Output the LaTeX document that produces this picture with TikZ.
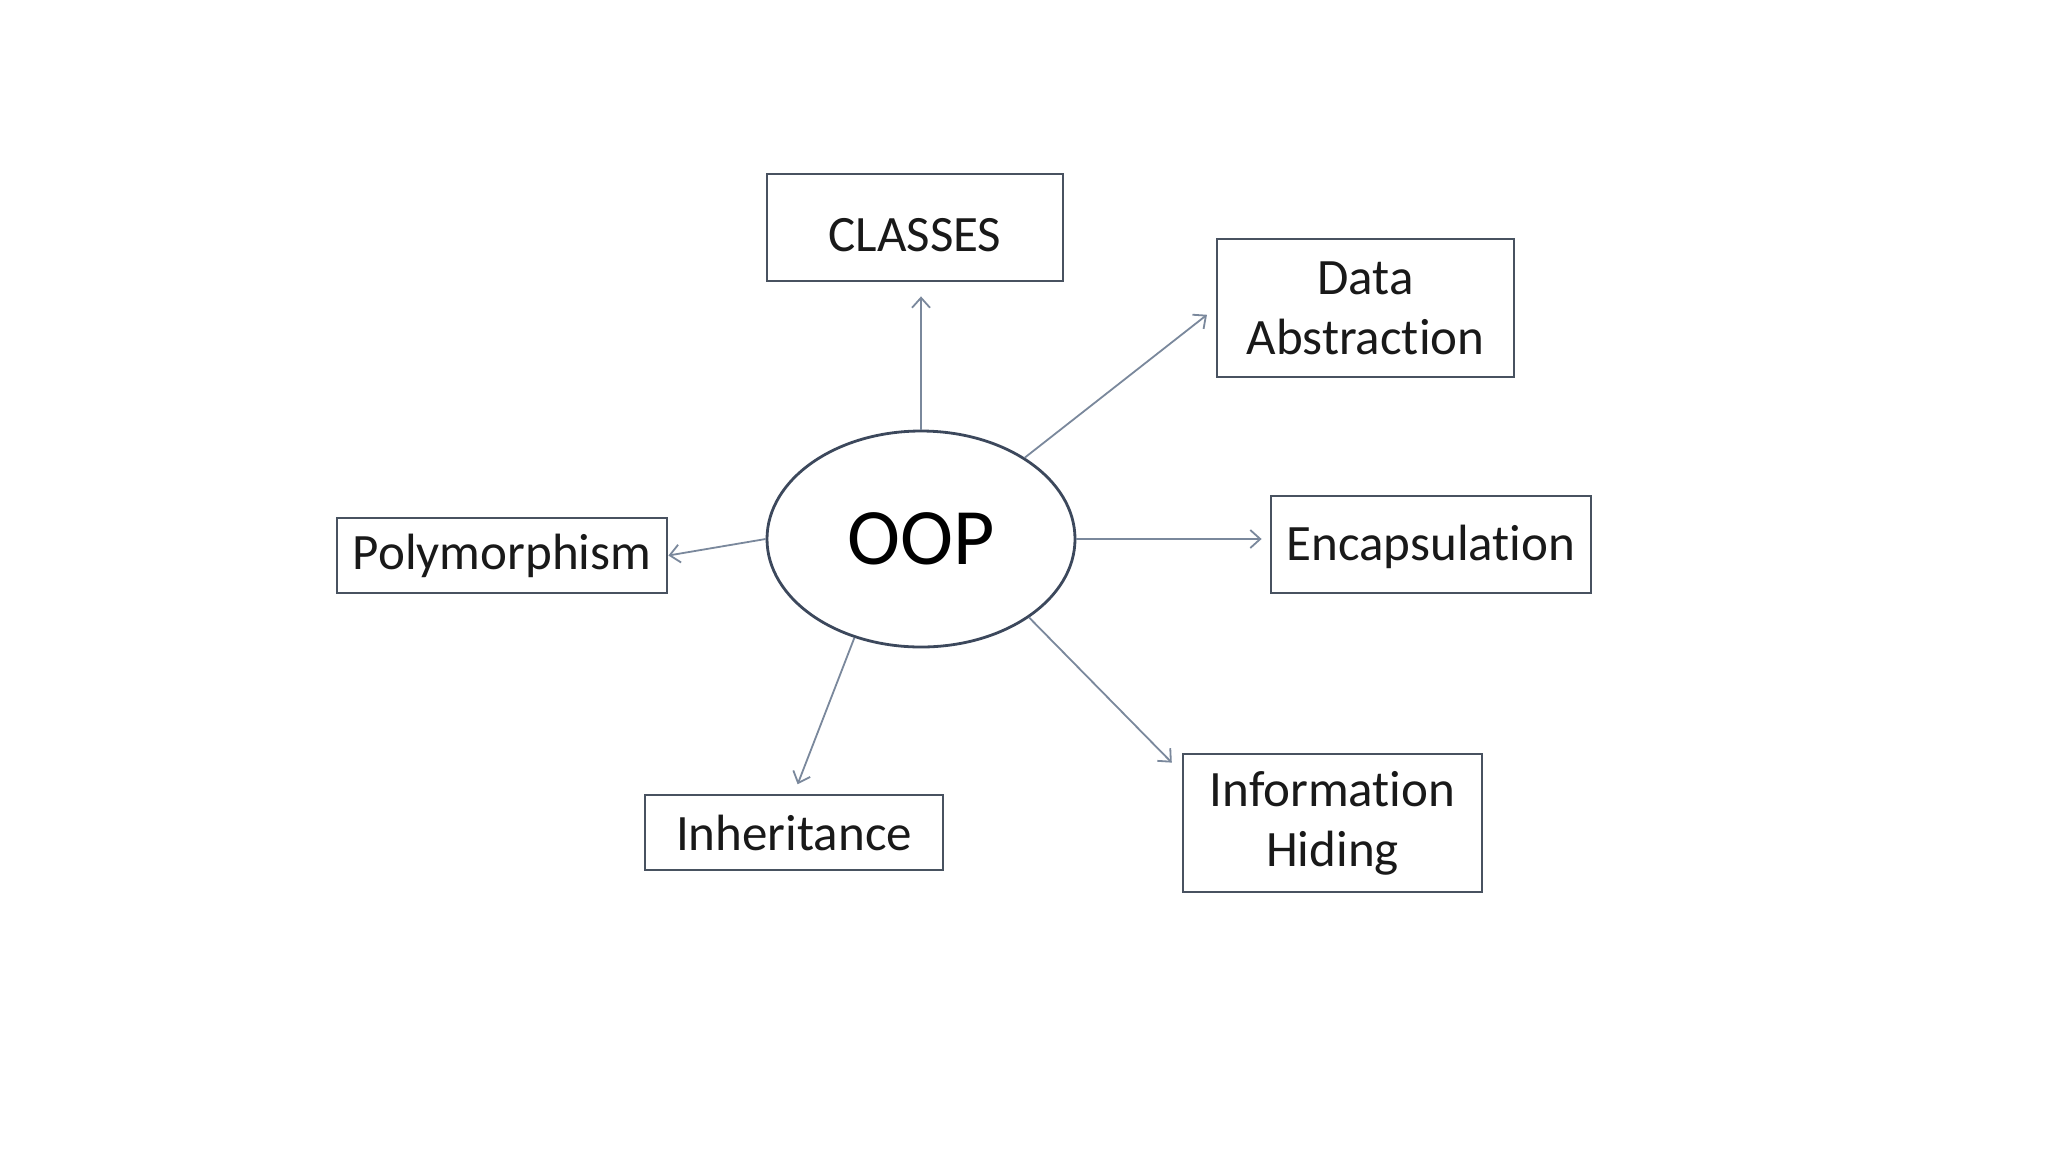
\documentclass[tikz,border=0pt]{standalone}
\usepackage{fontspec}
\setmainfont[Ligatures=NoCommon,RawFeature=-liga]{Carlito}
\usetikzlibrary{shapes.geometric,arrows.meta}
\definecolor{boxc}{RGB}{72,82,96}
\definecolor{arrc}{RGB}{122,136,156}
\definecolor{ellc}{RGB}{60,72,92}
\begin{document}
\begin{tikzpicture}[x=0.5pt,y=-0.5pt,
  box/.style={draw=boxc, line width=1.4pt, fill=white, align=center,
    font=\fontsize{25.5}{30}\selectfont, inner sep=0pt, text=black!90},
  conn/.style={draw=arrc, line width=0.9pt, -{Straight Barb[length=5pt,width=9pt]}}]
\useasboundingbox (0,0) rectangle (2048,1152);
\fill[white] (0,0) rectangle (2048,1152);
\node[draw=ellc, line width=1.4pt, ellipse, inner sep=0pt, minimum width=154pt, minimum height=108pt,
  font=\fontsize{40}{46}\selectfont] (oop) at (921,539) {OOP};
\node[box, minimum width=148pt, minimum height=53.5pt, text height=24pt, text depth=0pt] (classes) at (915,227.5) {CLASSES};
\node[box, minimum width=148.5pt, minimum height=69pt] (data) at (1365.5,308) {Data\\Abstraction};
\node[box, minimum width=160pt, minimum height=48.5pt, text height=21pt, text depth=5pt] (enc) at (1431,544.5) {Encapsulation};
\node[box, minimum width=149.5pt, minimum height=69pt] (info) at (1332.5,823) {Information\\Hiding};
\node[box, minimum width=149pt, minimum height=37.5pt] (inh) at (794,832.5) {Inheritance};
\node[box, minimum width=165pt, minimum height=37.5pt] (poly) at (502,555.5) {Polymorphism};
\draw[conn, shorten >=7pt] (oop.north) -- (oop.north |- classes.south);
\draw[conn, shorten >=5.5pt] (oop) -- (data.west);
\draw[conn, shorten >=4pt] (oop.east) -- (oop.east -| enc.west);
\draw[conn, shorten >=7pt] (oop.-36) -- ([yshift=-10pt]info.north west);
\draw[conn, shorten >=5pt] (oop.-124) -- (inh.north);
\draw[conn] (oop.west) -- (poly.east);
\end{tikzpicture}
\end{document}
